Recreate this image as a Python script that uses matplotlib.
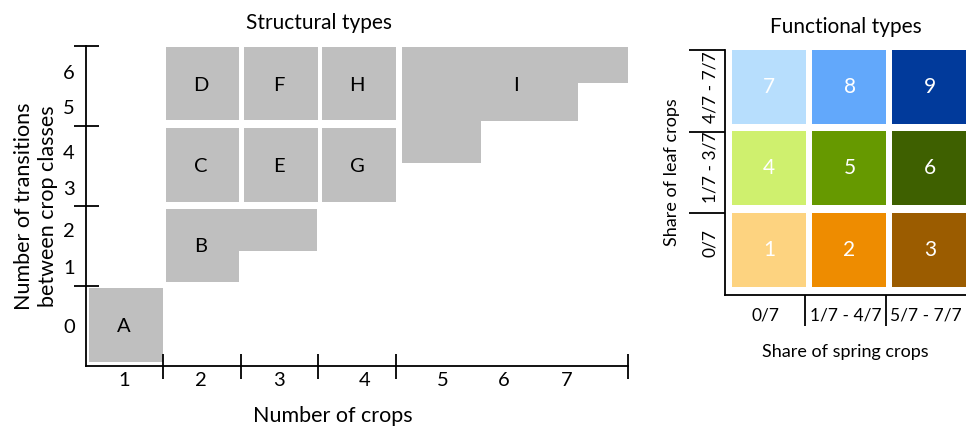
import numpy as np
import matplotlib.pyplot as plt

plt.rcParams['font.family'] = ['Lato', 'DejaVu Sans']

# structural types: grey blocks in (number of crops, transition group) units
block_type = ['A', 'B', 'B', 'C', 'D', 'E', 'F', 'G', 'H', 'I', 'I', 'I']
block_x0 = [0.54, 1.53, 2.47, 1.53, 1.53, 2.54, 2.54, 3.55, 3.55, 4.58, 5.59, 6.84]
block_x1 = [1.49, 2.48, 3.48, 2.48, 2.48, 3.49, 3.49, 4.50, 4.50, 5.60, 6.85, 7.51]
block_y0 = [0.05, 1.05, 1.44, 2.05, 3.07, 2.05, 3.07, 2.05, 3.07, 2.54, 3.06, 3.54]
block_y1 = [0.97, 1.96, 1.96, 2.97, 3.99, 2.97, 3.99, 2.97, 3.99, 3.99, 3.99, 3.99]

struct_names = ['A', 'B', 'C', 'D', 'E', 'F', 'G', 'H', 'I']
struct_x = [0.99, 1.98, 1.98, 1.98, 2.99, 2.99, 4.0, 4.0, 6.05]
struct_y = [0.5, 1.49, 2.5, 3.51, 2.5, 3.51, 2.5, 3.51, 3.51]

crops = ['1', '2', '3', '4', '5', '6', '7']
crop_pos = [0.99, 1.98, 2.99, 4.1, 5.11, 5.9, 6.71]
crop_bounds = [1.5, 2.5, 3.5, 4.5, 7.5]

transitions = ['0', '1', '2', '3', '4', '5', '6']
trans_pos = [0.5, 1.24, 1.7, 2.23, 2.68, 3.24, 3.68]
trans_bounds = [1, 2, 3, 4]

# functional types: 3x3 grid
func_ids = ['1', '2', '3', '4', '5', '6', '7', '8', '9']
func_col = [0, 1, 2, 0, 1, 2, 0, 1, 2]
func_row = [0, 0, 0, 1, 1, 1, 2, 2, 2]
func_colors = ['#fdd380', '#ee8c00', '#9b5c00',
               '#cff06e', '#669900', '#3e6000',
               '#b7defd', '#62a8fb', '#013a9b']
spring_labels = ['0/7', '1/7 - 4/7', '5/7 - 7/7']
leaf_labels = ['0/7', '1/7 - 3/7', '4/7 - 7/7']
leaf_pos = [0.64, 1.57, 2.55]

fig = plt.figure(figsize=(9.66, 4.29), dpi=100)
ax1 = fig.add_axes([86 / 966, 63 / 429, 542 / 966, 320 / 429])
ax2 = fig.add_axes([725 / 966, 134 / 429, 241 / 966, 245 / 429])

# structural types
ax1.bar(x=block_x0, height=np.subtract(block_y1, block_y0),
        width=np.subtract(block_x1, block_x0), bottom=block_y0,
        align='edge', color='#bfbfbf', linewidth=0)
for name, x, y in zip(struct_names, struct_x, struct_y):
    ax1.text(x, y, name, ha='center', va='center', fontsize=14.5)

ax1.set_xlim(0.5, 7.5)
ax1.set_ylim(0, 4)
for s in ['top', 'right']:
    ax1.spines[s].set_visible(False)
for s in ['left', 'bottom']:
    ax1.spines[s].set_linewidth(1.3)

ax1.set_xticks(crop_bounds)
ax1.set_xticklabels([])
ax1.set_xticks(crop_pos, minor=True)
ax1.set_xticklabels(crops, minor=True)
ax1.set_yticks(trans_bounds)
ax1.set_yticklabels([])
ax1.set_yticks(trans_pos, minor=True)
ax1.set_yticklabels(transitions, minor=True)
ax1.tick_params(which='major', direction='inout', length=18, width=1.3)
ax1.tick_params(which='minor', length=0, labelsize=14.5)
ax1.tick_params(axis='x', which='minor', pad=4)
ax1.tick_params(axis='y', which='minor', pad=8)

ax1.set_xlabel('Number of crops', fontsize=15.5)
ax1.xaxis.set_label_coords(0.456, -0.125, transform=ax1.transAxes)
ax1.xaxis.label.set_va('top')
ax1.set_ylabel('Number of transitions\nbetween crop classes', fontsize=15.5,
               labelpad=4, linespacing=1.25)
ax1.set_title('Structural types', fontsize=15, pad=12, x=0.43)

# functional types
for fid, c, r, col in zip(func_ids, func_col, func_row, func_colors):
    ax2.bar(x=c + 0.085, height=0.91, width=0.925, bottom=r + 0.1,
            align='edge', color=col, linewidth=0)
    ax2.text(c + 0.55, r + 0.55, fid, ha='center', va='center',
             color='white', fontsize=15)

ax2.set_xlim(0, 3)
ax2.set_ylim(0, 3)
for s in ['top', 'right']:
    ax2.spines[s].set_visible(False)
for s in ['left', 'bottom']:
    ax2.spines[s].set_linewidth(1.3)

ax2.set_xticks([1, 2])
ax2.set_xticklabels([])
ax2.set_xticks([0.5, 1.5, 2.5], minor=True)
ax2.set_xticklabels(spring_labels, minor=True)
ax2.set_yticks([1, 2, 3])
ax2.set_yticklabels([])
ax2.set_yticks(leaf_pos, minor=True)
ax2.set_yticklabels(leaf_labels, minor=True, rotation=90, va='center')
ax2.tick_params(axis='x', which='major', direction='out', length=22, width=1.3)
ax2.tick_params(axis='y', which='major', direction='out', length=26, width=1.3)
ax2.tick_params(which='minor', length=0, labelsize=12.5)
ax2.tick_params(axis='x', which='minor', pad=9)
ax2.tick_params(axis='y', which='minor', pad=5)

ax2.set_xlabel('Share of spring crops', fontsize=13, labelpad=10)
ax2.set_ylabel('Share of leaf crops', fontsize=13, labelpad=3)
ax2.set_title('Functional types', fontsize=15, pad=12)

fig.savefig('out.png', dpi=100)
